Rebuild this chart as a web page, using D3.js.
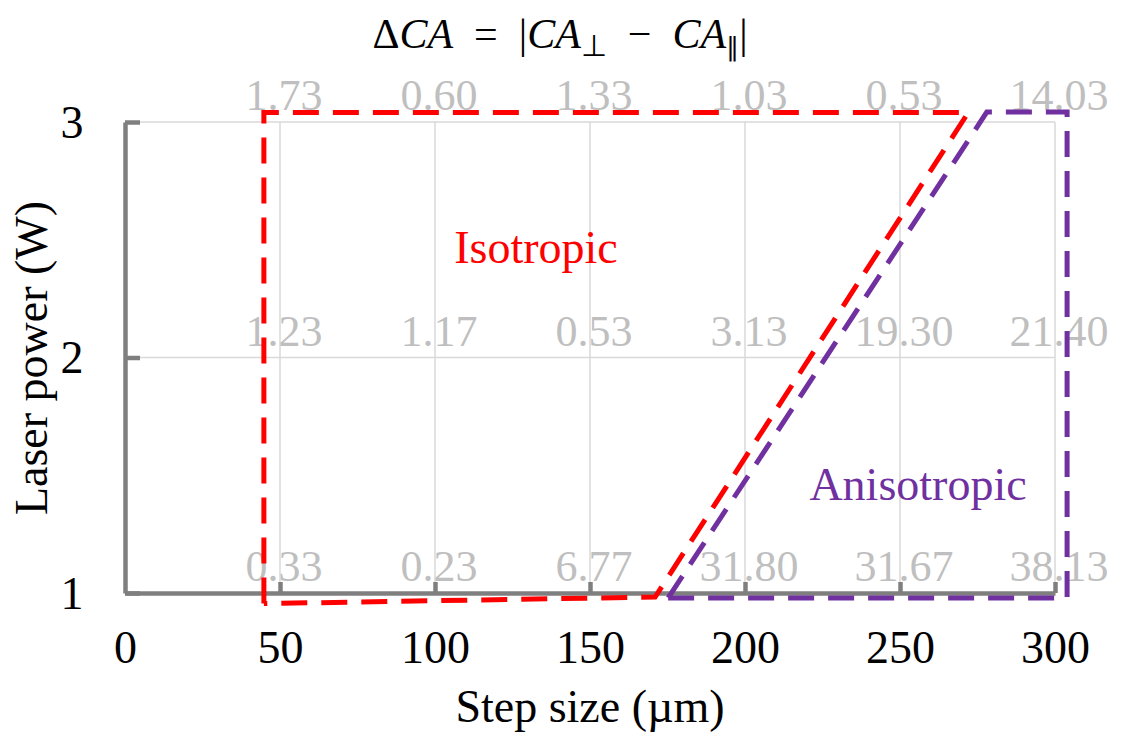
<!DOCTYPE html>
<html>
<head>
<meta charset="utf-8">
<script src="https://cdn.jsdelivr.net/npm/d3@7"></script>
<style>
  body { margin: 0; background: #fff; }
  text { font-family: 'Liberation Serif', 'Times New Roman', serif; }
</style>
</head>
<body>
<div id="graph"></div>
<script>
// step sizes (µm) and laser powers (W) of the measured grid
const stepSizes = [50, 100, 150, 200, 250, 300];
const powers = [1, 2, 3];
const xTicks = [0, 50, 100, 150, 200, 250, 300];

// ΔCA value at each grid point, one row per laser power
const deltaCA_1W = ['0.33', '0.23', '6.77', '31.80', '31.67', '38.13'];
const deltaCA_2W = ['1.23', '1.17', '0.53', '3.13', '19.30', '21.40'];
const deltaCA_3W = ['1.73', '0.60', '1.33', '1.03', '0.53', '14.03'];

// boundary of the two regions (step size, laser power)
const isotropicRegion = [[44.8, 0.955], [44.8, 3.04], [272, 3.04], [171, 0.983], [44.8, 0.955]];
const anisotropicRegion = [[175.2, 0.979], [303.9, 0.979], [303.9, 3.042], [278, 3.042], [175.2, 0.979]];

const width = 1124;
const height = 733;

const svg = d3.select('#graph')
  .append('svg')
  .attr('width', width)
  .attr('height', height);

const x = d3.scaleLinear().domain([0, 300]).range([125, 1055]);
const y = d3.scaleLinear().domain([1, 3]).range([593, 122]);

// grid
const grid = svg.append('g').attr('stroke', '#d9d9d9').attr('stroke-width', 1.5);
grid.selectAll('line.v')
  .data(stepSizes)
  .enter().append('line')
  .attr('x1', d => x(d)).attr('x2', d => x(d))
  .attr('y1', y(3)).attr('y2', y(1));
grid.selectAll('line.h')
  .data([2, 3])
  .enter().append('line')
  .attr('x1', x(0)).attr('x2', x(300))
  .attr('y1', d => y(d)).attr('y2', d => y(d));

// data labels
const rows = [deltaCA_1W, deltaCA_2W, deltaCA_3W];
const labels = [];
rows.forEach((row, i) => {
  row.forEach((v, j) => labels.push({ step: stepSizes[j], power: powers[i], value: v }));
});

svg.append('g')
  .selectAll('text')
  .data(labels)
  .enter().append('text')
  .attr('x', d => x(d.step) + 4)
  .attr('y', d => y(d.power) - 12)
  .attr('text-anchor', 'middle')
  .attr('font-size', 44)
  .attr('fill', '#bfbfbf')
  .text(d => d.value);

// axes
const xAxis = svg.append('g')
  .attr('transform', `translate(0,${y(1)})`)
  .call(d3.axisBottom(x).tickValues(xTicks).tickSizeInner(-11).tickSizeOuter(0));
xAxis.selectAll('text')
  .attr('y', 70).attr('dy', 0)
  .attr('font-size', 46).attr('fill', '#000')
  .style('font-family', "'Liberation Serif', serif");

const yAxis = svg.append('g')
  .attr('transform', `translate(${x(0)},0)`)
  .call(d3.axisLeft(y).tickValues(powers).tickSizeInner(-15).tickSizeOuter(0).tickFormat(d3.format('d')));
yAxis.selectAll('text')
  .attr('x', -53).attr('dy', '0.33em')
  .attr('text-anchor', 'middle')
  .attr('font-size', 46).attr('fill', '#000')
  .style('font-family', "'Liberation Serif', serif");

svg.selectAll('.domain, .tick line')
  .attr('stroke', '#7f7f7f')
  .attr('stroke-width', 4.5);
svg.selectAll('.tick line').filter(d => d === 0).remove();

// region borders
const line = d3.line().x(d => x(d[0])).y(d => y(d[1]));
svg.append('path')
  .attr('d', line(isotropicRegion))
  .attr('fill', 'none')
  .attr('stroke', '#ff0000')
  .attr('stroke-width', 5)
  .attr('stroke-dasharray', '26,14');
svg.append('path')
  .attr('d', line(anisotropicRegion))
  .attr('fill', 'none')
  .attr('stroke', '#7030a0')
  .attr('stroke-width', 5)
  .attr('stroke-dasharray', '26,14');

svg.append('text')
  .attr('x', 536).attr('y', 263)
  .attr('text-anchor', 'middle')
  .attr('font-size', 46)
  .attr('fill', '#ff0000')
  .text('Isotropic');
svg.append('text')
  .attr('x', 918).attr('y', 500)
  .attr('text-anchor', 'middle')
  .attr('font-size', 46)
  .attr('fill', '#7030a0')
  .text('Anisotropic');

// axis titles
svg.append('text')
  .attr('x', 590).attr('y', 722)
  .attr('text-anchor', 'middle')
  .attr('font-size', 46)
  .text('Step size (µm)');
svg.append('text')
  .attr('transform', 'translate(47,358) rotate(-90)')
  .attr('text-anchor', 'middle')
  .attr('font-size', 46)
  .text('Laser power (W)');

// formula title
const title = svg.append('text')
  .attr('x', 560).attr('y', 48)
  .attr('text-anchor', 'middle')
  .attr('font-size', 42)
  .style('white-space', 'pre');
title.append('tspan').text('Δ');
title.append('tspan').attr('font-style', 'italic').text('CA');
title.append('tspan').text('\u2002=\u2002|');
title.append('tspan').attr('font-style', 'italic').text('CA');
title.append('tspan').attr('font-size', 30).attr('dy', 8).text('⊥');
title.append('tspan').attr('dy', -8).text('\u2002−\u2002');
title.append('tspan').attr('font-style', 'italic').text('CA');
title.append('tspan').attr('font-size', 26).attr('dy', 8).text('∥');
title.append('tspan').attr('dy', -8).text('|');
</script>
</body>
</html>
